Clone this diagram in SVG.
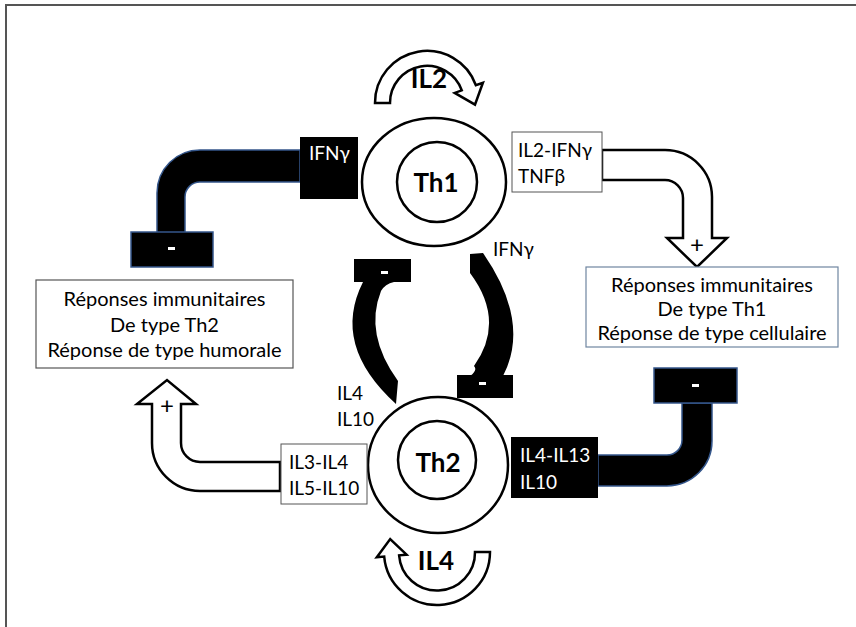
<svg xmlns="http://www.w3.org/2000/svg" width="856" height="627" viewBox="0 0 856 627">
<style>
text{font-family:Lato,"Noto Sans","DejaVu Sans",sans-serif;fill:#000}
.b{font-weight:bold;font-size:26px}
.s{font-size:19px}
.r{font-size:20px}
.w{fill:#fff}
.wa{fill:#fff;stroke:#000;stroke-width:2.5;stroke-linejoin:miter}
.ba{fill:#000;stroke:#34568b;stroke-width:1.5}
.cell{fill:#fff;stroke:#000;stroke-width:2.5}
.dash{fill:#fff}
</style>
<rect x="6" y="5" width="900" height="700" fill="#fff" stroke="#555" stroke-width="2"/>
<g id="connectors">
<path id="il2-loop" class="wa" d="M375,103 A52,52 0 0 1 475.9,85.2 L482.9,82.7 L475,104.7 L454.7,92.9 L461.8,90.3 A37,37 0 0 0 390,103 Z"/>
<path id="il4-loop" class="wa" d="M490,552 A53,53 0 0 1 384.2,556.6 L376.8,557.3 L390.2,539.1 L406.6,554.7 L399.1,555.3 A38,38 0 0 0 475,552 Z"/>
<path id="th1-plus" class="wa" d="M602,150 L665,150 A47,47 0 0 1 712,197 L712,238 L727,238 L697,267 L667,238 L683,238 L683,198 A18,18 0 0 0 665,180 L602,180 Z"/>
<path id="th2-plus" class="wa" d="M280,462 L200,462 A19,19 0 0 1 181,443 L181,404 L196,404 L167,380 L137,404 L152,404 L152,443 A48,48 0 0 0 200,491 L280,491 Z"/>
<path id="ifn-inhib" class="ba" d="M300,150 L200,150 A43,43 0 0 0 157,193 L157,233 L185,233 L185,197 A15,15 0 0 1 200,182 L300,182 Z"/>
<path id="il4-inhib" class="ba" d="M598,455 L667,455 A15,15 0 0 0 682,440 L682,403 L712,403 L712,441 A45,45 0 0 1 667,486 L598,486 Z"/>
<path id="th2-th1" d="M363,282 Q331,345 396,404 L398,381 Q364,334 381,291 Q385,284 394,282 Z" fill="#000"/>
<path id="th1-th2" d="M470,254 L483,253 Q531,322 503,376 L470,376 Q478,370 474,366 Q506,321 470,273 Z" fill="#000"/>
<rect x="131" y="232" width="82" height="35" class="ba"/>
<rect x="168" y="247" width="7" height="3" class="dash"/>
<rect x="654" y="368" width="83" height="35" class="ba"/>
<rect x="692" y="384" width="7" height="3" class="dash"/>
<rect x="354" y="259" width="57" height="23" fill="#000"/>
<rect x="381" y="271" width="7" height="3" class="dash"/>
<rect x="457" y="375" width="56" height="23" fill="#000"/>
<rect x="479" y="382" width="7" height="3" class="dash"/>
<text x="697" y="253" text-anchor="middle" font-size="24">+</text>
<text x="167" y="414" text-anchor="middle" font-size="24">+</text>
<text x="429" y="88" class="b" font-size="23" text-anchor="middle">IL2</text>
<text x="436" y="570" class="b" font-size="23" text-anchor="middle">IL4</text>
<text x="493" y="256" class="s">IFNγ</text>
<text x="337" y="400" class="s">IL4</text>
<text x="337" y="426" class="s">IL10</text>
</g>
<g id="th1">
<ellipse cx="434" cy="182" rx="72" ry="64" class="cell"/>
<circle cx="437" cy="182" r="40" class="cell"/>
<text x="436" y="192" class="b" text-anchor="middle">Th1</text>
</g>
<g id="th2">
<ellipse cx="438" cy="465" rx="70" ry="68" class="cell"/>
<circle cx="437" cy="460" r="39" class="cell"/>
<text x="438" y="472" class="b" text-anchor="middle">Th2</text>
</g>
<g id="ifn-box">
<rect x="300" y="137" width="58" height="62" fill="#000"/>
<text x="309" y="160" class="s w">IFNγ</text>
</g>
<g id="th1-cyto">
<rect x="512" y="132" width="90" height="60" fill="#fff" stroke="#555" stroke-width="1"/>
<text x="518" y="157" class="s">IL2-IFNγ</text>
<text x="518" y="183" class="s">TNFβ</text>
</g>
<g id="th2-cyto">
<rect x="281" y="444" width="86" height="60" fill="#fff" stroke="#555" stroke-width="1"/>
<text x="289" y="469" class="s">IL3-IL4</text>
<text x="289" y="495" class="s">IL5-IL10</text>
</g>
<g id="th2-inhib-box">
<rect x="511" y="437" width="87" height="61" fill="#000"/>
<text x="520" y="462" class="s w">IL4-IL13</text>
<text x="520" y="489" class="s w">IL10</text>
</g>
<g id="resp-th1">
<rect x="586" y="267" width="252" height="80" fill="#fff" stroke="#6f85a0" stroke-width="1.2"/>
<text x="712" y="292" class="r" text-anchor="middle">Réponses immunitaires</text>
<text x="712" y="316" class="r" text-anchor="middle">De type Th1</text>
<text x="712" y="340" class="r" text-anchor="middle">Réponse de type cellulaire</text>
</g>
<g id="resp-th2">
<rect x="36" y="280" width="257" height="88" fill="#fff" stroke="#555" stroke-width="1.2"/>
<text x="164.5" y="306" class="r" text-anchor="middle">Réponses immunitaires</text>
<text x="164.5" y="332" class="r" text-anchor="middle">De type Th2</text>
<text x="164.5" y="357" class="r" text-anchor="middle">Réponse de type humorale</text>
</g>
</svg>
